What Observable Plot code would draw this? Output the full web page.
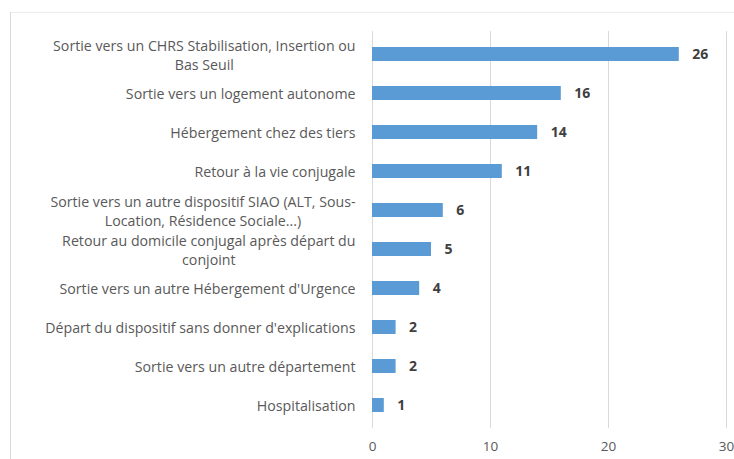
<!DOCTYPE html>
<html><head><meta charset="utf-8">
<script src="https://cdn.jsdelivr.net/npm/d3@7"></script>
<script src="https://cdn.jsdelivr.net/npm/@observablehq/plot@0.6"></script>
<style>
html,body{margin:0;padding:0;background:#fff;}
#wrap{position:relative;width:734px;height:459px;overflow:hidden;}
#frame{position:absolute;left:10px;top:12px;width:760px;height:460px;border-left:1px solid #d9d9d9;border-top:1px solid #ececec;}
#chart{position:absolute;left:0;top:0;}
</style></head>
<body><div id="wrap"><div id="frame"></div><div id="chart"></div></div>
<script>
const categories = [
  "Sortie vers un CHRS Stabilisation, Insertion ou\nBas Seuil",
  "Sortie vers un logement autonome",
  "Hébergement chez des tiers",
  "Retour à la vie conjugale",
  "Sortie vers un autre dispositif SIAO (ALT, Sous-\nLocation, Résidence Sociale...)",
  "Retour au domicile conjugal après départ du\nconjoint",
  "Sortie vers un autre Hébergement d'Urgence",
  "Départ du dispositif sans donner d'explications",
  "Sortie vers un autre département",
  "Hospitalisation"
];
const values = [26, 16, 14, 11, 6, 5, 4, 2, 2, 1];
const xTicks = [0, 10, 20, 30];

const data = categories.map((c, i) => ({cat: c, value: values[i]}));
const FONT = "'Open Sans', sans-serif";
const FS = 14.2;
const ctx = document.createElement("canvas").getContext("2d");
ctx.font = `${FS}px 'Open Sans'`;
const widthOf = s => Math.max(...s.split("\n").map(l => ctx.measureText(l).width));

const labelMarks = categories.map(c => Plot.text([c], {
  x: () => 0, y: d => d, text: d => d,
  textAnchor: "middle", dx: -(17 + widthOf(c) / 2),
  fontSize: FS, fill: "#595959", lineHeight: 1.3, fontFamily: FONT
}));

const chart = Plot.plot({
  width: 734, height: 459,
  marginLeft: 372, marginRight: 8, marginTop: 31, marginBottom: 31,
  style: {fontFamily: FONT, background: "transparent", overflow: "visible"},
  x: {domain: [0, 30], ticks: xTicks, tickSize: 0, tickPadding: 14, label: null},
  y: {domain: categories, paddingInner: 0.65, paddingOuter: 0.325, axis: null},
  marks: [
    Plot.ruleX(xTicks, {stroke: "#d9d9d9", strokeWidth: 1}),
    Plot.barX(data, {x: "value", y: "cat", fill: "#5B9BD5"}),
    Plot.text(data, {x: "value", y: "cat", text: d => String(d.value), textAnchor: "start", dx: 13,
      fontWeight: "bold", fontSize: 14, fill: "#404040"}),
    ...labelMarks,
    Plot.axisX({ticks: xTicks, tickSize: 0, tickPadding: 13, fontSize: 13.5, color: "#595959", label: null})
  ]
});
document.getElementById("chart").appendChild(chart);
</script>
</body></html>
